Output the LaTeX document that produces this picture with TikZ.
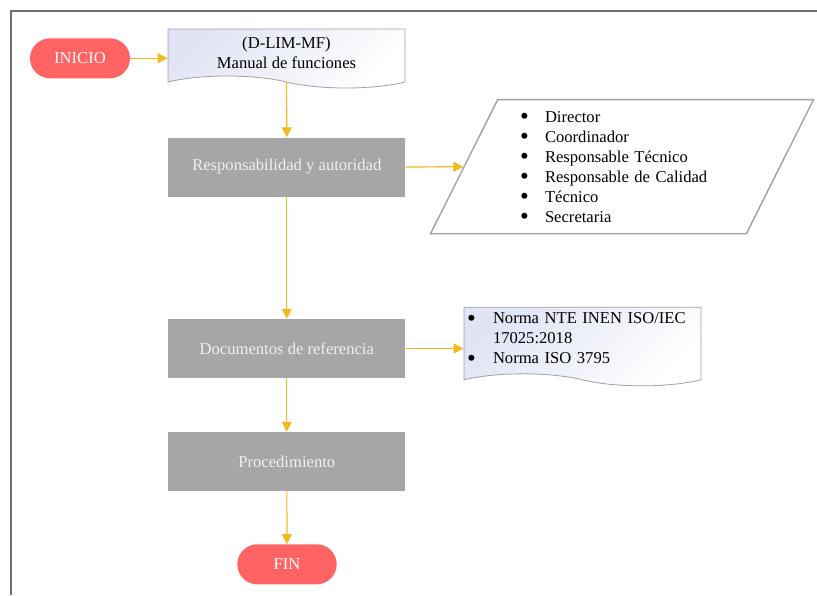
\documentclass[tikz,border=0pt]{standalone}
\usepackage{fontspec}
\setmainfont{Liberation Serif}
\usetikzlibrary{shapes.geometric,shapes.symbols,arrows.meta}

\definecolor{pill}{RGB}{255,99,99}
\definecolor{boxgray}{RGB}{166,166,166}
\definecolor{flow}{RGB}{242,184,31}
\definecolor{docblue}{RGB}{224,228,244}
\definecolor{edge}{RGB}{160,160,160}
\definecolor{frame}{RGB}{112,112,112}

% bullet of fixed width for the lists
\newcommand{\blt}[1]{\makebox[#1][l]{\raisebox{-2.6pt}[0pt][0pt]{\fontsize{25}{20}\selectfont\textbullet}}}
% move the text inside a document shape, keeping its size
\newcommand{\lift}[3]{\raisebox{#1}[\height][\depth]{\begin{tabular}{@{}#2@{}}#3\end{tabular}}}

\begin{document}
\begin{tikzpicture}[x=1pt,y=-1pt,
  every node/.style={font=\fontsize{16.6}{20}\selectfont},
  terminal/.style={rectangle,rounded corners=20pt,fill=pill,text=white,minimum width=100pt,minimum height=40pt},
  process/.style={rectangle,fill=boxgray,text=white!94!black,minimum width=237pt,minimum height=59pt},
  document/.style={tape,tape bend top=none,tape bend bottom=out and in,tape bend height=12pt,
    draw=edge,line width=0.8pt,left color=docblue,right color=white,shading angle=45,minimum width=237pt},
  data/.style={trapezium,trapezium left angle=63.4,trapezium right angle=116.6,trapezium stretches body,
    draw=edge,line width=1.4pt,inner ysep=11.5pt,minimum width=383pt,minimum height=134pt},
  flowline/.style={draw=flow,line width=1.2pt,-{Triangle[length=10pt,width=10pt]}}
]
\useasboundingbox (0,0) rectangle (817,595);
\draw[frame,line width=1.3pt] (11,595) -- (11,11) -- (817,11);

\node[terminal] (inicio) at (80,58.3) {INICIO};
\node[document,minimum height=59pt] (manual) at (286.5,52.5)
  {\lift{-1.5pt}{c}{(D-LIM-MF)\\Manual de funciones}};
\node[process] (resp) at (286.8,167) {Responsabilidad y autoridad};
\node[data,text width=204pt,align=left] (roles) at (622,166.7)
  {\blt{25pt}Director\\\blt{25pt}Coordinador\\\blt{25pt}Responsable Técnico\\
   \blt{25pt}Responsable de Calidad\\\blt{25pt}Técnico\\\blt{25pt}Secretaria};
\node[process] (docs) at (286.8,348.5) {Documentos de referencia};
\node[document,align=left,inner xsep=0pt,text width=231pt,minimum height=77pt] (refs) at (582.5,340.5)
  {\lift{1pt}{l}{\blt{26pt}Norma NTE INEN ISO/IEC\\\hspace*{26pt}17025:2018\\\blt{26pt}Norma ISO 3795}};
\node[process] (proc) at (286.8,461.5) {Procedimiento};
\node[terminal,minimum width=99.4pt] (fin) at (287,564.3) {FIN};

\draw[flowline] (inicio) -- (inicio -| manual.west);
\draw[flowline] (manual) -- (resp);
\draw[flowline] (resp.east) -- (roles.west);
\draw[flowline] (resp) -- (docs);
\draw[flowline] (docs) -- (docs -| refs.west);
\draw[flowline] (docs) -- (proc);
\draw[flowline] (proc) -- (fin);
\end{tikzpicture}
\end{document}
